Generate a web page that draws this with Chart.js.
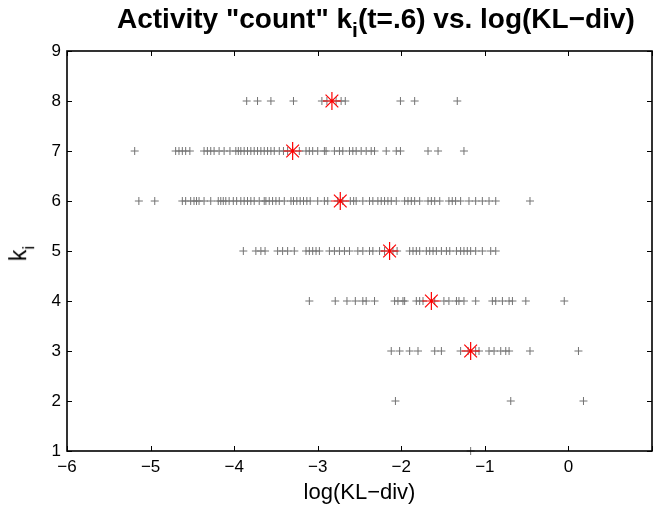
<!DOCTYPE html>
<html>
<head>
<meta charset="utf-8">
<script src="https://cdn.jsdelivr.net/npm/chart.js@4/dist/chart.umd.min.js"></script>
<style>
  body { margin: 0; background: #fff; }
  #wrap { position: relative; width: 653px; height: 506px; overflow: hidden; }
  #title {
    position: absolute; left: 117px; top: 3px; white-space: nowrap;
    font: bold 28px "Liberation Sans", Arial, sans-serif; color: #000;
  }
  #title sub, #ylab sub { font-size: 0.75em; vertical-align: -0.45em; line-height: 0; }
  #ylab {
    position: absolute; left: 11px; top: 240px; white-space: nowrap;
    font: 23px "Liberation Sans", Arial, sans-serif; color: #000;
    transform: rotate(-90deg); transform-origin: center;
  }
</style>
</head>
<body>
<div id="wrap">
  <canvas id="chart" width="653" height="506"></canvas>
  <div id="title">Activity "count" k<sub>i</sub>(t=.6) vs. log(KL&minus;div)</div>
  <div id="ylab">k<sub>i</sub></div>
</div>
<script>
// log(KL-div) values for each activity count k_i
const row8 = [-3.85, -3.72, -3.56, -3.29, -2.95, -2.89, -2.78, -2.72, -2.67, -2.01, -1.84, -1.33];
const row7 = [-5.19, -4.70, -4.66, -4.62, -4.58, -4.53, -4.36, -4.32, -4.28, -4.24, -4.18, -4.12, -4.05, -3.98, -3.95, -3.92, -3.88, -3.84, -3.80, -3.76, -3.72, -3.68, -3.64, -3.60, -3.56, -3.52, -3.46, -3.41, -3.36, -3.30, -3.22, -3.14, -3.10, -3.06, -3.00, -2.92, -2.90, -2.80, -2.74, -2.70, -2.62, -2.58, -2.54, -2.48, -2.42, -2.36, -2.32, -2.18, -2.06, -2.01, -1.68, -1.56, -1.25];
const row6 = [-5.14, -4.95, -4.62, -4.58, -4.52, -4.48, -4.45, -4.42, -4.36, -4.28, -4.19, -4.16, -4.13, -4.10, -4.06, -4.01, -3.97, -3.92, -3.88, -3.84, -3.80, -3.76, -3.70, -3.64, -3.62, -3.58, -3.54, -3.50, -3.46, -3.40, -3.32, -3.29, -3.25, -3.21, -3.17, -3.13, -3.09, -3.00, -2.92, -2.88, -2.76, -2.70, -2.61, -2.57, -2.54, -2.46, -2.38, -2.34, -2.28, -2.24, -2.20, -2.16, -2.12, -2.06, -1.96, -1.92, -1.88, -1.84, -1.78, -1.68, -1.64, -1.60, -1.54, -1.43, -1.39, -1.35, -1.29, -1.19, -1.11, -1.03, -0.95, -0.87, -0.46];
const row5 = [-3.89, -3.74, -3.68, -3.63, -3.48, -3.42, -3.36, -3.28, -3.14, -3.10, -3.06, -3.02, -2.98, -2.86, -2.80, -2.74, -2.68, -2.62, -2.52, -2.46, -2.38, -2.34, -2.26, -2.20, -2.10, -2.05, -1.90, -1.86, -1.82, -1.78, -1.70, -1.66, -1.62, -1.58, -1.52, -1.46, -1.42, -1.34, -1.29, -1.25, -1.21, -1.17, -1.11, -1.03, -0.93, -0.87];
const row4 = [-3.10, -2.79, -2.65, -2.55, -2.46, -2.42, -2.32, -2.08, -2.04, -1.98, -1.96, -1.82, -1.78, -1.74, -1.60, -1.49, -1.43, -1.34, -1.31, -1.25, -1.11, -0.91, -0.87, -0.79, -0.71, -0.67, -0.51, -0.05];
const row3 = [-2.12, -2.02, -1.90, -1.80, -1.60, -1.52, -1.29, -1.20, -1.11, -1.07, -0.95, -0.89, -0.81, -0.75, -0.71, -0.46, 0.12];
const row2 = [-2.07, -0.69, 0.18];
const row1 = [-1.17];

const kLevels = [8, 7, 6, 5, 4, 3, 2, 1];
const rows = [row8, row7, row6, row5, row4, row3, row2, row1];

// red stars: centre of each row
const starX = [-2.83, -3.30, -2.73, -2.14, -1.64, -1.17];
const starK = [8, 7, 6, 5, 4, 3];

const xTicks = [-6, -5, -4, -3, -2, -1, 0, 1];
const yTicks = [1, 2, 3, 4, 5, 6, 7, 8, 9];

const grayPoints = [];
rows.forEach((row, i) => {
    row.forEach(v => grayPoints.push({ x: v, y: kLevels[i] }));
});
const starPoints = starX.map((v, i) => ({ x: v, y: starK[i] }));

// box + inward tick marks like matlab
const boxPlugin = {
    id: "box",
    afterDatasetsDraw(chart) {
        const { ctx, chartArea: a, scales } = chart;
        ctx.save();
        ctx.strokeStyle = "#000";
        ctx.lineWidth = 1;
        scales.x.ticks.forEach(t => {
            const px = Math.round(scales.x.getPixelForValue(t.value)) + 0.5;
            ctx.beginPath();
            ctx.moveTo(px, a.bottom); ctx.lineTo(px, a.bottom - 5);
            ctx.moveTo(px, a.top); ctx.lineTo(px, a.top + 5);
            ctx.stroke();
        });
        scales.y.ticks.forEach(t => {
            const py = Math.round(scales.y.getPixelForValue(t.value)) + 0.5;
            ctx.beginPath();
            ctx.moveTo(a.left, py); ctx.lineTo(a.left + 5, py);
            ctx.moveTo(a.right, py); ctx.lineTo(a.right - 5, py);
            ctx.stroke();
        });
        ctx.lineWidth = 1.6;
        ctx.strokeRect(Math.round(a.left), Math.round(a.top), Math.round(a.width), Math.round(a.height));
        ctx.restore();
    }
};

const fmt = v => (v < 0 ? "\u2212" + Math.abs(v) : String(v));

new Chart(document.getElementById("chart").getContext("2d"), {
    type: "scatter",
    data: {
        datasets: [
            {
                data: starPoints,
                pointStyle: "star",
                pointRadius: 9,
                borderColor: "#ff0000",
                backgroundColor: "#ff0000",
                borderWidth: 1.2,
                clip: false,
            },
            {
                data: grayPoints,
                pointStyle: "cross",
                pointRadius: 4,
                borderColor: "rgb(115,115,115)",
                backgroundColor: "rgb(115,115,115)",
                borderWidth: 1,
                clip: false,
            },
        ],
    },
    options: {
        responsive: false,
        animation: false,
        layout: { autoPadding: false, padding: { top: 51, right: 1, left: 0, bottom: 0 } },
        scales: {
            x: {
                type: "linear",
                min: -6,
                max: 1,
                afterBuildTicks: s => { s.ticks = xTicks.map(v => ({ value: v })); },
                afterFit: s => { s.height = 55; s.paddingRight = 0; s.paddingLeft = 0; },
                grid: { display: false, drawTicks: false },
                border: { display: false },
                ticks: {
                    padding: 6,
                    maxRotation: 0,
                    color: "#000",
                    font: { family: "Liberation Sans, Arial", size: 17 },
                    callback: v => (v === 1 ? "" : fmt(v)),
                },
                title: {
                    display: true,
                    text: "log(KL\u2212div)",
                    color: "#000",
                    padding: { top: 0, bottom: 0 },
                    font: { family: "Liberation Sans, Arial", size: 22 },
                },
            },
            y: {
                type: "linear",
                min: 1,
                max: 9,
                afterBuildTicks: s => { s.ticks = yTicks.map(v => ({ value: v })); },
                afterFit: s => { s.width = 67; },
                grid: { display: false, drawTicks: false },
                border: { display: false },
                ticks: {
                    padding: 6,
                    color: "#000",
                    font: { family: "Liberation Sans, Arial", size: 17 },
                    callback: v => fmt(v),
                },
            },
        },
        plugins: {
            legend: { display: false },
            tooltip: { enabled: false },
        },
    },
    plugins: [boxPlugin],
});
</script>
</body>
</html>
